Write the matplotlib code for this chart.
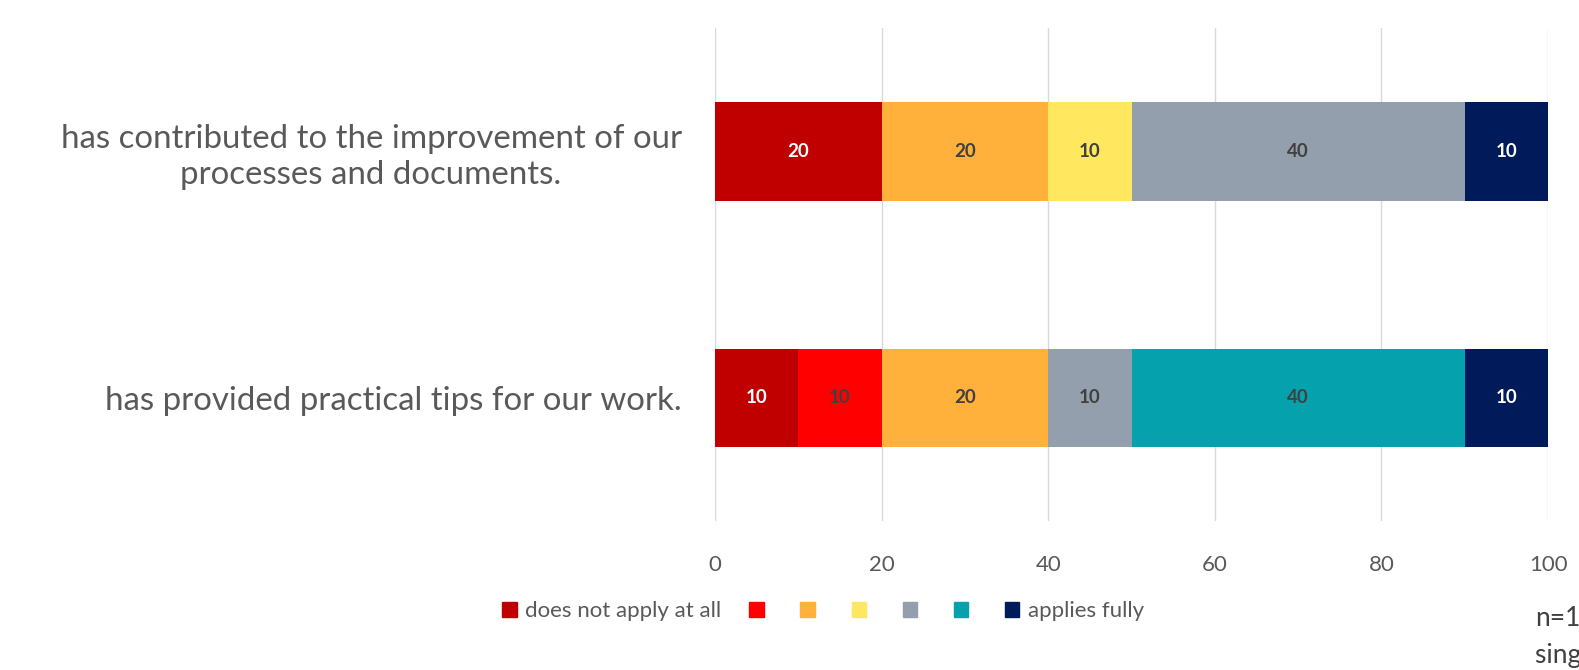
import numpy as np
import matplotlib.pyplot as plt
from matplotlib.patches import Patch

statements = ["has contributed to the improvement of our\nprocesses and documents.",
              "has provided practical tips for our work."]
# share per answer level, from "does not apply at all" to "applies fully"
level1 = [20, 10]
level2 = [0, 10]
level3 = [20, 20]
level4 = [10, 0]
level5 = [40, 10]
level6 = [0, 40]
level7 = [10, 10]
levels = [level1, level2, level3, level4, level5, level6, level7]
legend_labels = ["does not apply at all", "", "", "", "", "", "applies fully"]
colors = ["#C00000", "#FF0000", "#FFB13B", "#FFE85F", "#939FAD", "#05A2AD", "#011B5A"]
text_colors = ["white", "#404040", "#404040", "#404040", "#404040", "#404040", "white"]

plt.rcParams['font.family'] = ['Lato', 'DejaVu Sans']

fig = plt.figure(figsize=(15.79, 6.70), dpi=100)
ax = fig.add_axes([0.4528, 0.222, 0.5276, 0.736])

y = np.array([1.5, 0.5])
left = np.zeros(len(statements))
for vals, c, tc in zip(levels, colors, text_colors):
    vals = np.array(vals)
    rects = ax.barh(y, vals, height=0.4, left=left, color=c, zorder=2)
    for r, v in zip(rects, vals):
        if v > 0:
            ax.text(r.get_x() + r.get_width() / 2, r.get_y() + r.get_height() / 2, f"{v}",
                    ha='center', va='center', color=tc, fontsize=13.5, fontweight='bold')
    left += vals

ax.set_xlim(0, 100)
ax.set_ylim(0, 2)
ax.set_xticks([0, 20, 40, 60, 80, 100])
ax.set_yticks(y)
ax.set_yticklabels(statements, fontsize=23.8, color='#595959', ha='right',
                   multialignment='center', linespacing=1.25)
ax.tick_params(axis='y', length=0, pad=24)
ax.tick_params(axis='x', length=0, labelsize=16, labelcolor='#595959', pad=24)
ax.grid(axis='x', color='#D9D9D9', linewidth=1, zorder=0)
for s in ax.spines.values():
    s.set_visible(False)

handles = [Patch(color=c) for c in colors]
ax.legend(handles, legend_labels, loc='center', bbox_to_anchor=(0.13, -0.182), ncol=7,
          frameon=False, fontsize=16, labelcolor='#595959', handlelength=0.65,
          handleheight=0.65, handletextpad=0.4, columnspacing=1.25)

fig.text(0.972, 0.05, "n=10\nsingle choice", fontsize=19, color='#404040', va='center', linespacing=1.6)

fig.savefig("out.png", dpi=100)
